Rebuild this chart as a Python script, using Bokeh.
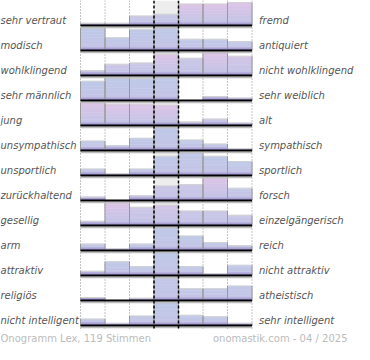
from bokeh.plotting import figure
from bokeh.models import Range1d, ColumnDataSource
from bokeh.embed import file_html
from bokeh.resources import INLINE
from bokeh.core.properties import value

# ---------------- data ----------------
left_labels = ["sehr vertraut", "modisch", "wohlklingend", "sehr männlich", "jung",
               "unsympathisch", "unsportlich", "zurückhaltend", "gesellig", "arm",
               "attraktiv", "religiös", "nicht intelligent"]
right_labels = ["fremd", "antiquiert", "nicht wohlklingend", "sehr weiblich", "alt",
                "sympathisch", "sportlich", "forsch", "einzelgängerisch", "reich",
                "nicht attraktiv", "atheistisch", "sehr intelligent"]

# bar heights per row (7 steps, % of row height)
r01 = [9, 9, 38, 45, 86, 86, 92]
r02 = [90, 51, 83, 90, 45, 45, 36]
r03 = [19, 45, 50, 85, 69, 94, 77]
r04 = [77, 90, 87, 92, 0, 15, 10]
r05 = [93, 85, 85, 81, 13, 26, 10]
r06 = [38, 19, 49, 91, 42, 26, 7]
r07 = [26, 7, 26, 77, 92, 77, 56]
r08 = [13, 0, 19, 58, 64, 96, 49]
r09 = [17, 98, 73, 81, 58, 58, 41]
r10 = [26, 7, 26, 93, 58, 32, 19]
r11 = [17, 55, 36, 96, 36, 7, 41]
r12 = [12, 0, 9, 90, 47, 47, 58]
r13 = [26, 9, 38, 92, 41, 35, 9]
rows = [r01, r02, r03, r04, r05, r06, r07, r08, r09, r10, r11, r12, r13]

# tint of each bar (0 = blue, 1 = pink)
t01 = [0.5, 0.5, 0.35, 0.35, 1, 1, 1]
t02 = [0, 0, 0, 0, 0, 0, 0]
t03 = [0.4, 0.5, 0.35, 1, 0.4, 1, 0.7]
t04 = [0, 0, 0, 0, 0, 0.4, 0]
t05 = [1, 1, 1, 1, 0.3, 0.3, 0.3]
t06 = [0, 0, 0, 0, 0, 0, 0]
t07 = [0, 0, 0, 0, 0.1, 0, 0]
t08 = [0, 0, 0.3, 0.4, 0.4, 1, 0.2]
t09 = [0.3, 1, 0.5, 0.7, 0.4, 0.4, 0.4]
t10 = [0, 0, 0, 0, 0, 0, 0]
t11 = [0, 0, 0, 0, 0, 0, 0]
t12 = [0.1, 0.1, 0.1, 0.1, 0.1, 0.1, 0.1]
t13 = [0, 0, 0, 0, 0, 0, 0]
tints = [t01, t02, t03, t04, t05, t06, t07, t08, t09, t10, t11, t12, t13]

footer_left = "Onogramm Lex, 119 Stimmen"
footer_right = "onomastik.com - 04 / 2025"

# ---------------- layout ----------------
W, H = 354, 344
PX_X = 24.5      # pixels per column
PX_Y = 25.0      # pixels per row
X0 = 80.0        # canvas x of first column
ncol = 7
nrow = len(rows)

p = figure(width=W, height=H, output_backend="svg", toolbar_location=None,
           x_range=Range1d(-X0 / PX_X, (W - X0) / PX_X),
           y_range=Range1d(H / PX_Y, 0),
           x_axis_location=None, y_axis_location=None,
           min_border=0, outline_line_color=None, background_fill_color="white")
p.grid.visible = False

px = 1.0 / PX_Y

# middle column background
p.quad(left=[3], right=[4], top=[0], bottom=[nrow], fill_color="#ededed", line_color=None)

# dotted separators
for xv in [0, 1, 2, 5, 6, 7]:
    p.segment(x0=[xv], y0=[0], x1=[xv], y1=[nrow + 0.12], line_color="#888888",
              line_dash="1 2", line_width=1)


def mix(c1, c2, t):
    return tuple(a + (b - a) * t for a, b in zip(c1, c2))


def hexc(c):
    return "#%02x%02x%02x" % tuple(int(round(a)) for a in c)


blue_top = (190, 201, 232)
pink_top = (222, 196, 231)
bottom_c = (196, 196, 230)
band1 = (176, 168, 216)
band2 = (155, 146, 204)

L, R, T, B, C = [], [], [], [], []
eL, eY0, eY1 = [], [], []
tx0, tx1, ty = [], [], []
NS = 6
for i, (vals, tv) in enumerate(zip(rows, tints)):
    base = i + 1
    for j, (v, t) in enumerate(zip(vals, tv)):
        if v <= 0:
            continue
        h = v / 100.0
        top = base - h
        band = min(h, 3 * px)
        ctop = mix(blue_top, pink_top, t)
        body = h - band
        for k in range(NS):
            if body <= 0:
                break
            y_a = top + body * k / NS
            y_b = top + body * (k + 1) / NS
            L.append(j); R.append(j + 1); T.append(y_a); B.append(y_b)
            C.append(hexc(mix(ctop, bottom_c, (k + 0.5) / NS)))
        half = band / 2
        L.append(j); R.append(j + 1); T.append(base - band); B.append(base - half); C.append(hexc(band1))
        L.append(j); R.append(j + 1); T.append(base - half); B.append(base); C.append(hexc(band2))
        eL += [j, j + 1]; eY0 += [top, top]; eY1 += [base, base]
        tx0.append(j); tx1.append(j + 1); ty.append(top)

p.quad(source=ColumnDataSource(dict(left=L, right=R, top=T, bottom=B, color=C)),
       left="left", right="right", top="top", bottom="bottom",
       fill_color="color", line_color="color", line_width=0.5)
p.segment(x0=tx0, y0=ty, x1=tx1, y1=ty, line_color="#d2d2d2", line_width=1)
p.segment(x0=eL, y0=eY0, x1=eL, y1=eY1, line_color="#999999", line_width=1)

# baselines with shadow
bys = [i + 1 for i in range(nrow)]
p.segment(x0=[0] * nrow, y0=[b + 2 * px for b in bys], x1=[7] * nrow, y1=[b + 2 * px for b in bys],
          line_color="#bdbdbd", line_width=1.5)
p.segment(x0=[0] * nrow, y0=bys, x1=[7] * nrow, y1=bys, line_color="black", line_width=2)

# dashed middle lines
for xv in [3, 4]:
    p.segment(x0=[xv], y0=[0], x1=[xv], y1=[nrow + 0.12], line_color="black",
              line_dash="3 2", line_width=1.5)

# labels
ly = [i + 1 - 5 * px for i in range(nrow)]
p.text(x=[-X0 / PX_X] * nrow, y=ly, text=left_labels, text_font=value("DejaVu Sans"),
       text_font_style="italic", text_font_size="10px", text_color="#555555",
       text_baseline="middle", text_align="left")
p.text(x=[(258.5 - X0) / PX_X] * nrow, y=ly, text=right_labels, text_font=value("DejaVu Sans"),
       text_font_style="italic", text_font_size="10px", text_color="#555555",
       text_baseline="middle", text_align="left")

fy = 338 / PX_Y
p.text(x=[-X0 / PX_X], y=[fy], text=[footer_left], text_font=value("DejaVu Sans"),
       text_font_size="10px", text_color="#bbbbbb", text_baseline="middle", text_align="left")
p.text(x=[(347 - X0) / PX_X], y=[fy], text=[footer_right], text_font=value("DejaVu Sans"),
       text_font_size="10px", text_color="#bbbbbb", text_baseline="middle", text_align="right")

open("out.html", "w").write(file_html(p, INLINE))
